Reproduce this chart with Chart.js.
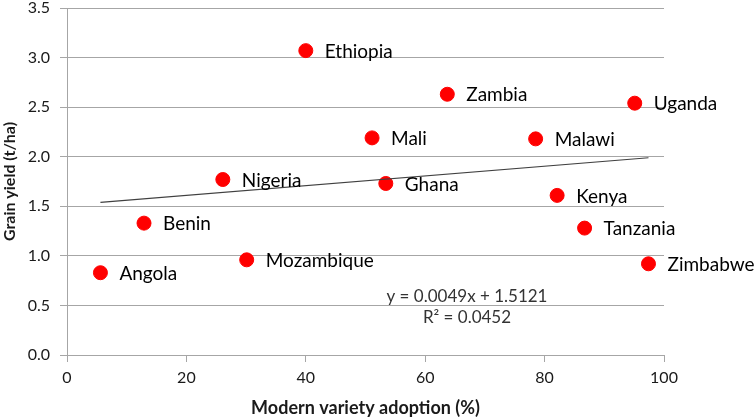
<!DOCTYPE html>
<html>
<head>
<meta charset="utf-8">
<script src="https://cdn.jsdelivr.net/npm/chart.js@4/dist/chart.umd.min.js"></script>
<style>
  html, body { margin: 0; padding: 0; background: #fff; }
  #wrap { width: 756px; height: 420px; position: relative; }
</style>
</head>
<body>
<div id="wrap"><canvas id="chart"></canvas></div>
<script>
/* Grain yield vs modern variety adoption – scatter with labels + linear trend */

const countries = ["Ethiopia", "Zambia", "Uganda", "Mali", "Malawi", "Nigeria", "Ghana",
  "Kenya", "Benin", "Tanzania", "Mozambique", "Angola", "Zimbabwe"];
const adoption = [40.0, 63.7, 95.1, 51.1, 78.5, 26.1, 53.4, 82.1, 12.9, 86.7, 30.1, 5.6, 97.4];
const grainYield = [3.07, 2.63, 2.54, 2.19, 2.18, 1.77, 1.73, 1.61, 1.33, 1.28, 0.96, 0.83, 0.92];

const trendSlope = 0.0049;
const trendIntercept = 1.5121;
const trendLabel = "y = 0.0049x + 1.5121";
const r2Label = "R\u00b2 = 0.0452";

const FONT = "Lato, 'Open Sans', sans-serif";
const GRID_COLOR = "#a6a6a6";
const TEXT_COLOR = "#1a1a1a";

const points = adoption.map((x, i) => ({ x: x, y: grainYield[i] }));
const xLo = Math.min(...adoption);
const xHi = Math.max(...adoption);
const trendPoints = [
  { x: xLo, y: trendSlope * xLo + trendIntercept },
  { x: xHi, y: trendSlope * xHi + trendIntercept }
];

/* country names next to dots, and the regression text */
const labelPlugin = {
  id: "pointLabels",
  afterDatasetsDraw(chart) {
    const ctx = chart.ctx;
    const meta = chart.getDatasetMeta(1);
    ctx.save();
    ctx.fillStyle = "#000";
    ctx.font = "19px " + FONT;
    ctx.textBaseline = "middle";
    ctx.textAlign = "left";
    meta.data.forEach((el, i) => {
      ctx.fillText(countries[i], el.x + 19, el.y + 1);
    });

    const xs = chart.scales.x;
    const ys = chart.scales.y;
    ctx.font = "17px " + FONT;
    ctx.fillStyle = "#333";
    ctx.textAlign = "center";
    ctx.fillText(trendLabel, xs.getPixelForValue(67), ys.getPixelForValue(0.59));
    ctx.fillText(r2Label, xs.getPixelForValue(67), ys.getPixelForValue(0.375));
    ctx.restore();
  }
};

new Chart(document.getElementById("chart"), {
  type: "scatter",
  data: {
    datasets: [
      {
        label: "Trend",
        type: "line",
        data: trendPoints,
        borderColor: "#404040",
        borderWidth: 1.2,
        pointRadius: 0,
        fill: false,
        order: 0
      },
      {
        label: "Countries",
        data: points,
        backgroundColor: "#ff0000",
        borderColor: "#ff0000",
        pointRadius: 7,
        pointHoverRadius: 7,
        order: 1
      }
    ]
  },
  options: {
    responsive: true,
    maintainAspectRatio: false,
    animation: false,
    layout: { padding: { top: 6, right: 92, left: 0, bottom: 0 } },
    plugins: {
      legend: { display: false },
      tooltip: { enabled: false }
    },
    scales: {
      x: {
        type: "linear",
        min: 0,
        max: 100,
        afterFit: (s) => { s.height = 65; },
        ticks: { stepSize: 20, color: TEXT_COLOR, font: { family: FONT, size: 16 }, padding: 6 },
        grid: { drawOnChartArea: false, drawTicks: true, tickLength: 7, color: GRID_COLOR },
        border: { color: GRID_COLOR },
        title: {
          display: true,
          text: "Modern variety adoption (%)",
          color: TEXT_COLOR,
          font: { family: FONT, size: 18, weight: "bold" },
          padding: { top: 0, bottom: 1 }
        }
      },
      y: {
        min: 0,
        max: 3.5,
        // fixed width; drop the top reserve so the 3.5 line sits near the top edge
        afterFit: (s) => { s.width = 67; s.paddingTop = 0; },
        ticks: {
          stepSize: 0.5,
          color: TEXT_COLOR,
          font: { family: FONT, size: 16 },
          padding: 10,
          callback: (v) => Number(v).toFixed(1)
        },
        grid: { color: GRID_COLOR, tickLength: 7 },
        border: { color: GRID_COLOR },
        title: {
          display: true,
          text: "Grain yield (t/ha)",
          color: TEXT_COLOR,
          font: { family: FONT, size: 16, weight: "bold" },
          padding: { top: 0, bottom: 0 }
        }
      }
    }
  },
  plugins: [labelPlugin]
});
</script>
</body>
</html>
